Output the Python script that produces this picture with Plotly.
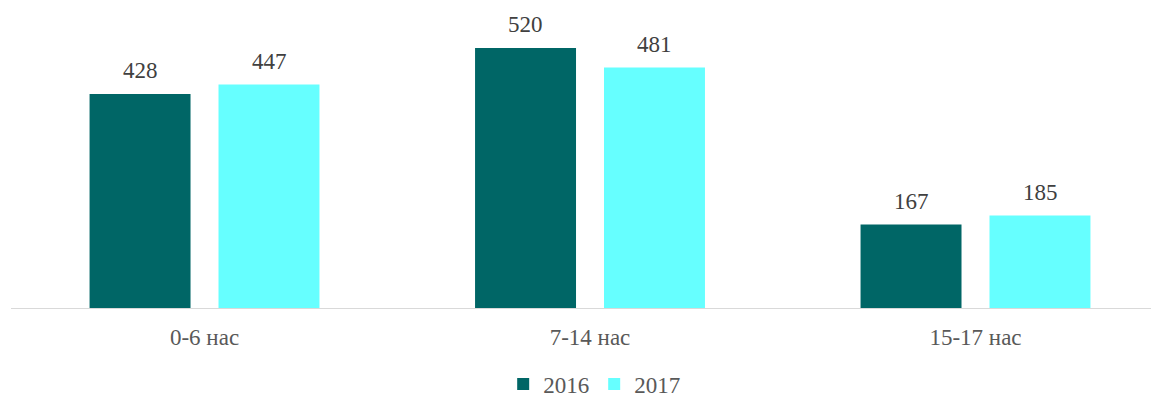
import plotly.graph_objects as go

categories = ["0-6 нас", "7-14 нас", "15-17 нас"]
series_names = ["2016", "2017"]
values_2016 = [428, 520, 167]
values_2017 = [447, 481, 185]
colors = ["#006666", "#66FFFF"]

FONT = "'Liberation Serif', 'Times New Roman', serif"
TXT = "#595959"

fig = go.Figure()
for name, vals, col in zip(series_names, [values_2016, values_2017], colors):
    fig.add_trace(go.Bar(x=categories, y=vals, name=name, marker_color=col,
                         marker_line_width=0))

# data labels as annotations
offsets = [-64.5, 64.5]
for vals, xs in zip([values_2016, values_2017], offsets):
    for c, v in zip(categories, vals):
        fig.add_annotation(x=c, y=v, text=str(v), showarrow=False, xref="x", yref="y",
                           xshift=xs, yanchor="bottom", yshift=9,
                           font=dict(family=FONT, size=23, color="#404040"))

fig.update_layout(
    width=1151, height=390,
    margin=dict(l=3, r=0, t=2, b=90, autoexpand=False),
    paper_bgcolor="white", plot_bgcolor="white",
    barmode="group", bargap=0.331, bargroupgap=0.217,
    font=dict(family=FONT, size=23, color=TXT),
    showlegend=True,
    legend=dict(orientation="h", x=0.508, xanchor="center", y=-0.255, yanchor="middle",
                font=dict(family=FONT, size=23, color=TXT), itemwidth=30,
                traceorder="normal"),
)
fig.update_xaxes(range=[-0.502, 2.476], showline=True, linecolor="#d9d9d9", linewidth=1,
                 ticks="", showgrid=False, ticklabelstandoff=8,
                 tickfont=dict(family=FONT, size=23, color=TXT))
fig.update_yaxes(range=[0, 596], visible=False, showgrid=False, zeroline=False)

fig.write_html("out.html")
